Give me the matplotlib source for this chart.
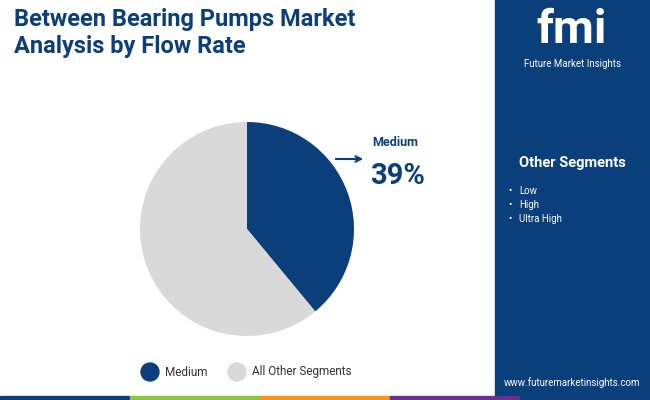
import matplotlib.pyplot as plt
from matplotlib.patches import Rectangle, Circle

plt.rcParams['font.family'] = 'Roboto'

labels = ['Medium', 'All Other Segments']
shares = [39, 61]
colors = ['#0b3f7c', '#d9d9d9']
other_segments = ['Low', 'High', 'Ultra High']

W, H = 650, 400
fig = plt.figure(figsize=(6.5, 4.0), dpi=100)
bg = fig.add_axes([0, 0, 1, 1])
bg.set_xlim(0, W)
bg.set_ylim(H, 0)
bg.axis('off')

# right panel
bg.add_patch(Rectangle((495, 0), 155, 400, color='#0b3f7c'))
bg.text(572, 30, 'fmi', color='white', fontsize=34, fontweight='bold', ha='center', va='center')
bg.text(572, 64, 'Future Market Insights', color='white', fontsize=7, ha='center', va='center')
bg.text(572, 163, 'Other Segments', color='white', fontsize=10.5, fontweight='bold', ha='center', va='center')
for i, s in enumerate(other_segments):
    bg.text(508, 191 + i * 14, '•', color='white', fontsize=7, va='center')
    bg.text(519, 191 + i * 14, s, color='white', fontsize=7, va='center')
bg.text(572, 383, 'www.futuremarketinsights.com', color='white', fontsize=7, ha='center', va='center')

# bottom strip
strip = ['#0b3f7c', '#8dc63f', '#f7941d', '#6c2f8e', '#0b3f7c']
for i, c in enumerate(strip):
    bg.add_patch(Rectangle((i * 130, 396), 130, 4, color=c))

# title
bg.text(14, 8, 'Between Bearing Pumps Market\nAnalysis by Flow Rate', color='#0b3f7c',
        fontsize=17, fontweight='bold', va='top', linespacing=1.2)

# pie
r = 107
ax = fig.add_axes([(247 - r) / W, 1 - (229 + r) / H, 2 * r / W, 2 * r / H])
ax.pie(shares, colors=colors, startangle=90, counterclock=False,
       wedgeprops=dict(linewidth=0))
ax.set_xlim(-1, 1)
ax.set_ylim(-1, 1)
ax.set_aspect('equal')

# callout
bg.annotate('', xy=(366, 159), xytext=(333, 159),
            arrowprops=dict(arrowstyle='->', color='#0b3f7c', lw=1.5))
bg.text(372, 143, labels[0], color='#0b3f7c', fontsize=9, fontweight='bold', va='center')
bg.text(370, 176, f'{shares[0]}%', color='#0b3f7c', fontsize=21, fontweight='bold', va='center')

# legend
for x, lab, c in [(150, labels[0], colors[0]), (237, labels[1], colors[1])]:
    bg.add_patch(Circle((x, 372), 9, color=c))
    bg.text(x + 15, 372, lab, color='#333333', fontsize=8.5, va='center')

fig.savefig('out.png', dpi=100)
